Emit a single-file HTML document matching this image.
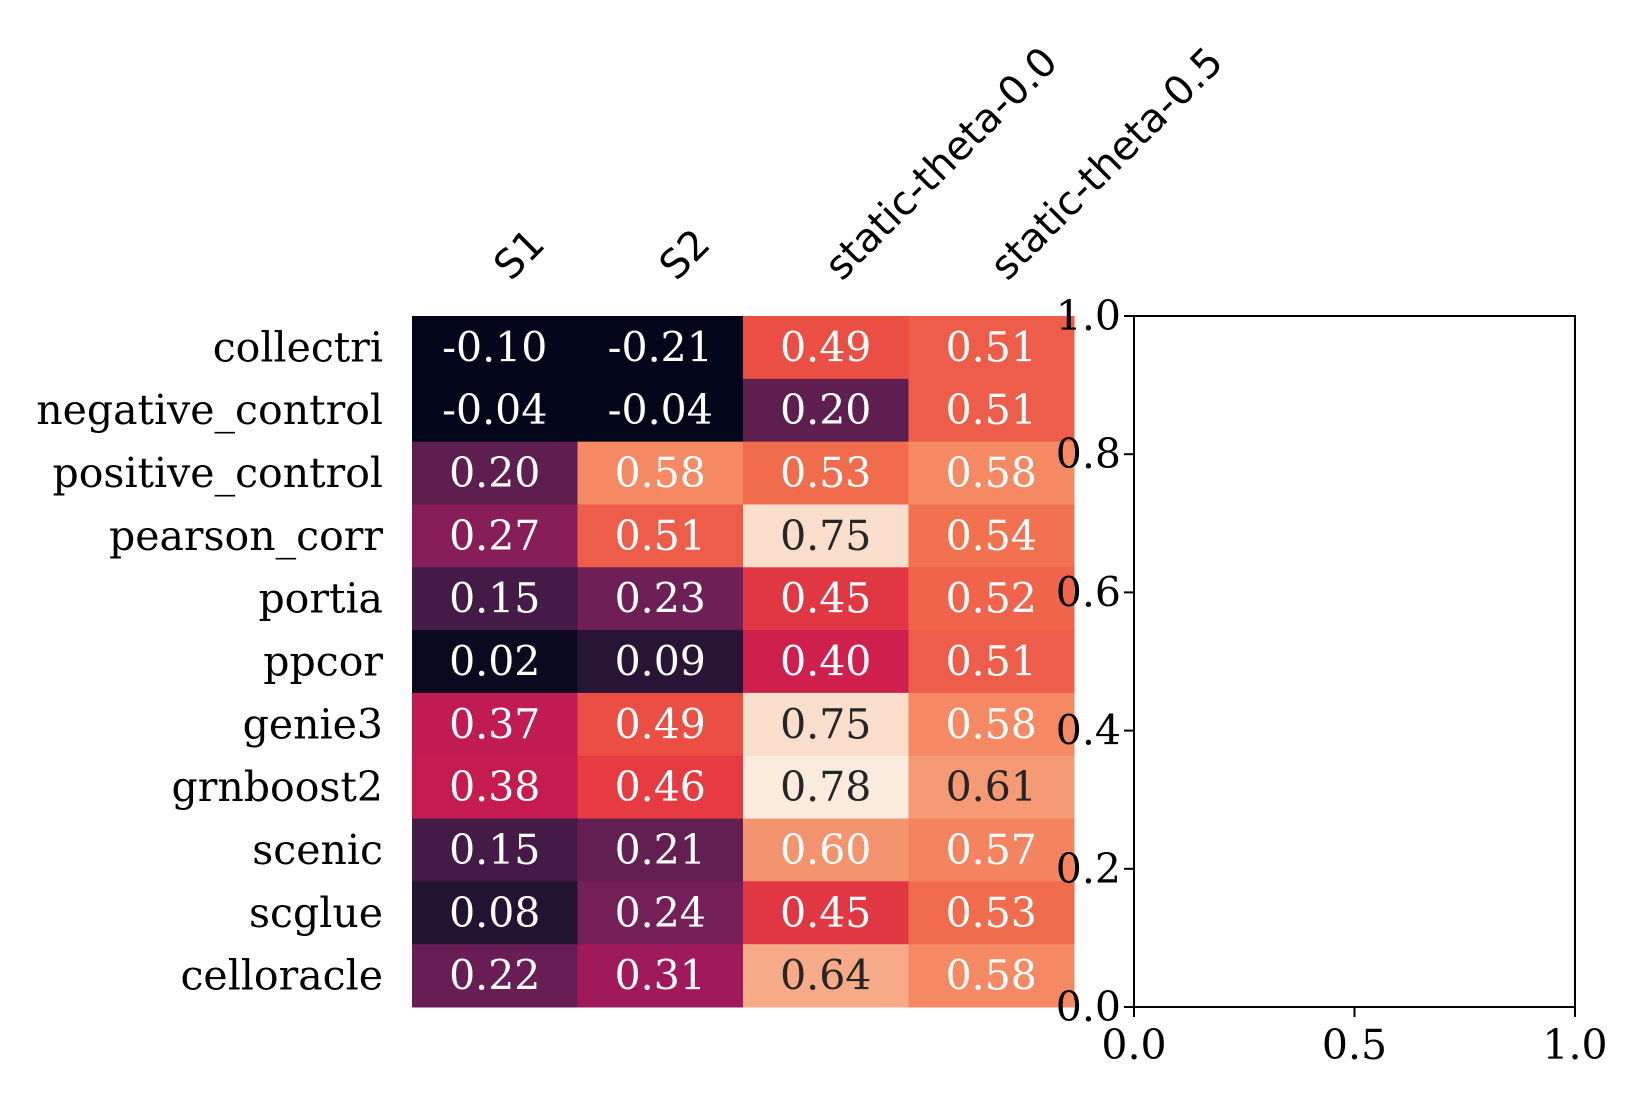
<!DOCTYPE html>
<html><head><meta charset="utf-8"><style>body{margin:0;background:#fff}svg{display:block}</style></head>
<body>
<svg id="c" width="1637" height="1109" xmlns="http://www.w3.org/2000/svg"></svg>
<script>
const rows=["collectri","negative_control","positive_control","pearson_corr","portia","ppcor","genie3","grnboost2","scenic","scglue","celloracle"];
const cols=["S1","S2","static-theta-0.0","static-theta-0.5"];
const colS1=[-0.10,-0.04,0.20,0.27,0.15,0.02,0.37,0.38,0.15,0.08,0.22];
const colS2=[-0.21,-0.04,0.58,0.51,0.23,0.09,0.49,0.46,0.21,0.24,0.31];
const colT0=[0.49,0.20,0.53,0.75,0.45,0.40,0.75,0.78,0.60,0.45,0.64];
const colT5=[0.51,0.51,0.58,0.54,0.52,0.51,0.58,0.61,0.57,0.53,0.58];
const yTicks=["0.0","0.2","0.4","0.6","0.8","1.0"];
const xTicks=["0.0","0.5","1.0"];
const vmin=0,vmax=0.78;
const series=[colS1,colS2,colT0,colT5];
const NS="http://www.w3.org/2000/svg",svg=document.getElementById('c');
function mk(t,a,p){const e=document.createElementNS(NS,t);for(const k in a)e.setAttribute(k,a[k]);(p||svg).appendChild(e);return e;}
const stops=["#03051a","#221331","#461c48","#701f57","#a11a5b","#cb1b4f","#e83f3f","#f37651","#f5a27d","#f8c9ae","#faebdd"];
function hx(h){return [1,3,5].map(i=>parseInt(h.substr(i,2),16));}
function norm(v){return Math.max(0,Math.min(1,(v-vmin)/(vmax-vmin)));}
function cmap(v){const t=norm(v);const f=t*10,i=Math.min(9,Math.floor(f)),r=f-i;const a=hx(stops[i]),b=hx(stops[i+1]);return a.map((x,k)=>Math.round(x+(b[k]-x)*r));}
const L=412,T=316,W=662,H=691,cw=W/cols.length,rh=H/rows.length;
const xc=j=>L+cw*(j+0.5), yc=i=>T+rh*(i+0.5);
const serif='"DejaVu Serif","Liberation Serif",serif', sans='"DejaVu Sans","Liberation Sans",sans-serif';
series.forEach((s,j)=>s.forEach((v,i)=>{
 const c=cmap(v);
 const r=mk('rect',{x:L+cw*j,y:T+rh*i,width:cw+0.5,height:rh+0.5,fill:`rgb(${c})`});
 
 
 const t=mk('text',{x:xc(j),y:yc(i)+14,'text-anchor':'middle','font-family':serif,'font-size':41,fill:norm(v)>0.775?'#262626':'#ffffff'});
 t.textContent=v.toFixed(2);
 
 
}));
rows.forEach((n,i)=>{const t=mk('text',{x:383,y:yc(i)+14,'text-anchor':'end','font-family':serif,'font-size':41,fill:'#000'});t.textContent=n;
 
 });
cols.forEach((n,j)=>{const x=xc(j)+16,y=282;const t=mk('text',{x:x,y:y,'font-family':sans,'font-size':40,fill:'#000',transform:`rotate(-45 ${x} ${y})`});t.textContent=n;
 
 });
const AL=1134,AR=1575,AT=316,AB=1007;
const ax=mk('rect',{x:AL,y:AT,width:AR-AL,height:AB-AT,fill:'none',stroke:'#000','stroke-width':2});


yTicks.forEach(s=>{const v=parseFloat(s),y=AB-(AB-AT)*v;mk('line',{x1:AL-10,x2:AL,y1:y,y2:y,stroke:'#000','stroke-width':2});
 const t=mk('text',{x:AL-13,y:y+14,'text-anchor':'end','font-family':serif,'font-size':41,fill:'#000'});t.textContent=s;
 
 });
xTicks.forEach(s=>{const v=parseFloat(s),x=AL+(AR-AL)*v;mk('line',{x1:x,x2:x,y1:AB,y2:AB+10,stroke:'#000','stroke-width':2});
 const t=mk('text',{x:x,y:AB+52,'text-anchor':'middle','font-family':serif,'font-size':41,fill:'#000'});t.textContent=s;
 
 });
</script>
</body></html>
